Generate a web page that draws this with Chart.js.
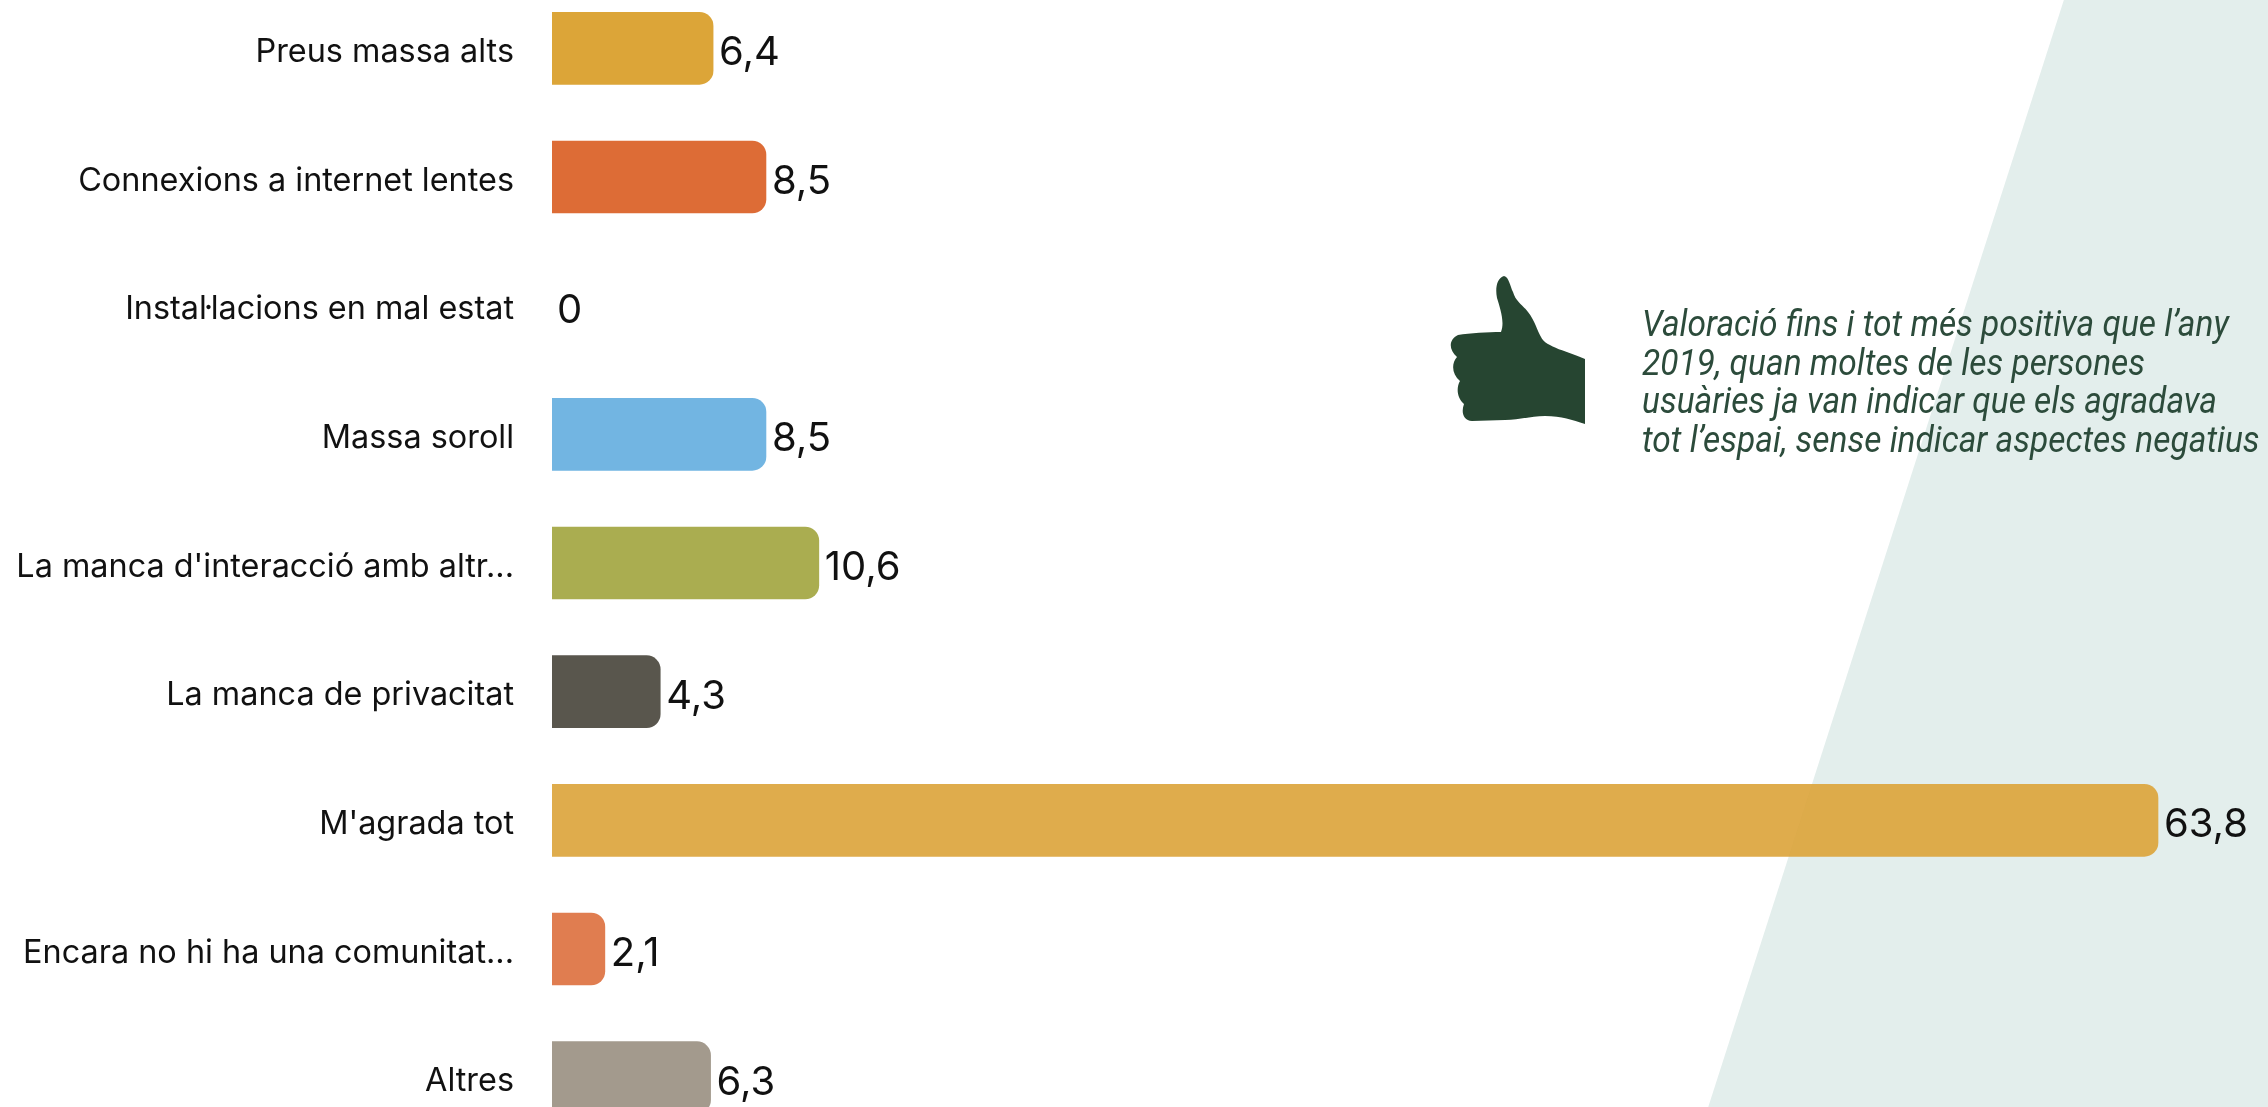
<!DOCTYPE html>
<html lang="ca"><head><meta charset="utf-8">
<script src="https://cdn.jsdelivr.net/npm/chart.js@4"></script>
<style>
html,body{margin:0;padding:0;background:#fff;width:2268px;height:1107px;overflow:hidden}
#wrap{position:relative;width:2268px;height:1107px;overflow:hidden}
#c{position:absolute;left:0;top:-16px;width:2268px;height:1158px}
#thumb{position:absolute;left:0;top:0}
#note{position:absolute;left:1642px;top:305px;color:#2c4b3b;font:italic 400 37px/38.5px "Roboto";white-space:nowrap;transform:scaleX(0.905);transform-origin:0 0}
</style></head><body>
<div id="wrap">
<canvas id="c" width="2268" height="1158"></canvas>
<svg id="thumb" width="2268" height="1107" viewBox="0 0 2268 1107"><path fill="#264531" d="M1504 276C1509 277 1510 286 1513 292C1516 302 1522 304 1528 312C1535 321 1537 330 1541 337C1545 347 1570 352 1585 359L1585 424C1572 420 1562 416 1545 416C1530 416 1520 420 1505 420L1472 421C1463 420 1461 412 1464 404C1457 398 1456 388 1460 381C1452 374 1451 364 1457 357C1449 350 1448 340 1458 335C1470 333 1488 332 1501 332C1505 322 1500 308 1497 298C1495 288 1497 278 1504 276Z"/></svg>
<div id="note">Valoració fins i tot més positiva que l’any<br>2019, quan moltes de les persones<br>usuàries ja van indicar que els agradava<br>tot l’espai, sense indicar aspectes negatius</div>
</div>
<script>
const categories = ["Preus massa alts","Connexions a internet lentes","Instal·lacions en mal estat","Massa soroll","La manca d'interacció amb altr...","La manca de privacitat","M'agrada tot","Encara no hi ha una comunitat...","Altres"];
const values = [6.4,8.5,0,8.5,10.6,4.3,63.8,2.1,6.3];
const barColors = ["#dca538","#dd6c36","rgba(0,0,0,0)","#72b5e2","#aaad50","#59564d","rgba(220,163,56,0.9)","#e07d50","#a39a8d"];
const panelColor = "#e3eeec";

const panel = {
  id:"panel",
  beforeDatasetsDraw(chart){
    const {ctx} = chart;
    ctx.save();
    ctx.fillStyle = panelColor;
    ctx.beginPath();
    ctx.moveTo(2069,0);ctx.lineTo(2268,0);ctx.lineTo(2268,1158);ctx.lineTo(1697,1158);
    ctx.closePath();ctx.fill();
    ctx.restore();
  }
};
const valueLabels = {
  id:"valueLabels",
  afterDatasetsDraw(chart){
    const {ctx} = chart;
    const bars = chart.getDatasetMeta(0).data;
    ctx.save();
    ctx.font = '400 40px "Inter"';
    ctx.fillStyle = "#111";
    ctx.textAlign = "left";
    ctx.textBaseline = "middle";
    bars.forEach((b,i)=>{
      ctx.fillText(String(values[i]).replace(".",","), b.x+ (values[i]===0?5:6), b.y+5);
    });
    ctx.restore();
  }
};
new Chart(document.getElementById("c"),{
  type:"bar",
  data:{labels:categories,datasets:[{data:values,backgroundColor:barColors,barThickness:72,
    borderRadius:{topLeft:0,bottomLeft:0,topRight:14,bottomRight:14},borderSkipped:false}]},
  plugins:[panel,valueLabels],
  options:{
    indexAxis:"y",responsive:false,animation:false,
    layout:{padding:0},
    plugins:{legend:{display:false},tooltip:{enabled:false}},
    scales:{
      x:{display:false,min:0,max:68.17},
      y:{
        afterFit(s){s.width=552;s.paddingTop=0;s.paddingBottom=0;},
        grid:{display:false,drawTicks:false},border:{display:false},
        ticks:{autoSkip:false,padding:38,labelOffset:4,color:"#111",font:{family:"Inter",size:32.4,weight:"400"}}
      }
    }
  }
});
</script>
</body></html>
